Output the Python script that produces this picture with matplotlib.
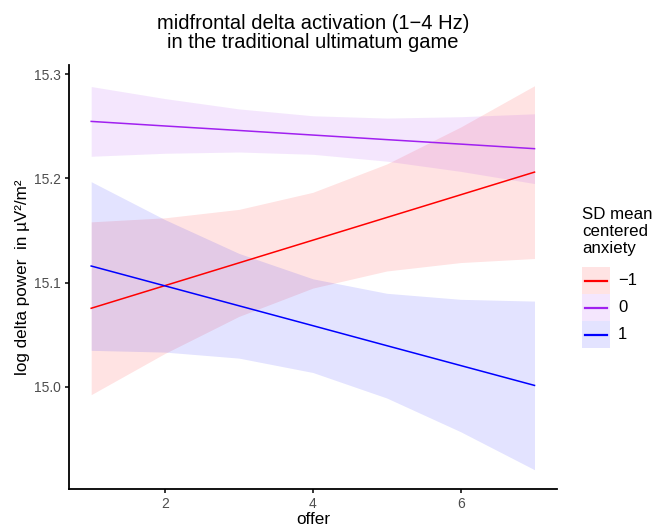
import matplotlib
matplotlib.use("Agg")
import matplotlib.pyplot as plt
from matplotlib.patches import Rectangle
from matplotlib.lines import Line2D

plt.rcParams["font.family"] = ["Liberation Sans", "DejaVu Sans"]

# offer values where the model was evaluated
offer = [1, 2, 3, 4, 5, 6, 7]

# predicted log delta power and 95% band, per anxiety level
fit_lo = [15.0753, 15.0971, 15.1189, 15.1407, 15.1625, 15.1843, 15.2061]
upper_lo = [15.1583, 15.1622, 15.1703, 15.1867, 15.2139, 15.2494, 15.2891]
lower_lo = [14.9923, 15.0320, 15.0675, 15.0947, 15.1111, 15.1192, 15.1231]

fit_mid = [15.2548, 15.2504, 15.2461, 15.2417, 15.2373, 15.2330, 15.2286]
upper_mid = [15.2883, 15.2767, 15.2668, 15.2602, 15.2580, 15.2593, 15.2621]
lower_mid = [15.2213, 15.2242, 15.2254, 15.2232, 15.2166, 15.2068, 15.1951]

fit_hi = [15.1159, 15.0968, 15.0777, 15.0586, 15.0394, 15.0203, 15.0012]
upper_hi = [15.1969, 15.1604, 15.1280, 15.1036, 15.0897, 15.0839, 15.0822]
lower_hi = [15.0349, 15.0332, 15.0274, 15.0136, 14.9891, 14.9567, 14.9202]

levels = ["\u22121", "0", "1"]
colors = ["#FF0000", "#A020F0", "#0000FF"]
fits = [fit_lo, fit_mid, fit_hi]
uppers = [upper_lo, upper_mid, upper_hi]
lowers = [lower_lo, lower_mid, lower_hi]

W, H = 656, 527
fig = plt.figure(figsize=(W / 100, H / 100), dpi=100)
ax = fig.add_axes([0.1052, 0.0727, 0.7434, 0.804])

for col, f, up, lo in zip(colors, fits, uppers, lowers):
    ax.fill_between(offer, lo, up, color=col, alpha=0.11, linewidth=0)
    ax.plot(offer, f, color=col, linewidth=1.1)

# axis styling (classic look)
ax.set_xlim(0.7, 7.3)
ax.set_ylim(14.902, 15.309)
ax.set_xticks([2, 4, 6])
ax.set_yticks([15.0, 15.1, 15.2, 15.3])
ax.set_yticklabels(["15.0", "15.1", "15.2", "15.3"])
for s in ["top", "right"]:
    ax.spines[s].set_visible(False)
for s in ["left", "bottom"]:
    ax.spines[s].set_linewidth(1.3)
ax.tick_params(axis="both", length=3, width=1.1, color="black",
               labelsize=10, labelcolor="#4D4D4D", pad=3)

ax.set_xlabel("offer", fontsize=12.3, labelpad=0.5)
ax.set_ylabel("log delta power  in \u00b5V\u00b2/m\u00b2", fontsize=12.3, labelpad=2.5)
ax.set_title("midfrontal delta activation (1\u22124 Hz)\nin the traditional ultimatum game",
             fontsize=14.5, pad=12, linespacing=1.0)

# legend drawn by hand, ggplot-style keys (ribbon box + line)
fig.text(582 / W, 1 - 207 / H, "SD mean\ncentered\nanxiety",
         fontsize=12.2, va="top", ha="left", linespacing=1.18)
key_top, key_h, key_x, key_w = 267, 27, 582, 28
for i, (lab, col) in enumerate(zip(levels, colors)):
    y0 = key_top + i * key_h
    fig.add_artist(Rectangle((key_x / W, 1 - (y0 + key_h) / H), key_w / W, key_h / H,
                             transform=fig.transFigure, facecolor=col, alpha=0.11,
                             linewidth=0))
    yc = 1 - (y0 + key_h / 2) / H
    fig.add_artist(Line2D([(key_x + 3) / W, (key_x + key_w - 3) / W], [yc, yc],
                          transform=fig.transFigure, color=col, linewidth=1.6))
    fig.text(618 / W, yc, lab, fontsize=12, va="center", ha="left")

plt.savefig("out.png", dpi=100)
